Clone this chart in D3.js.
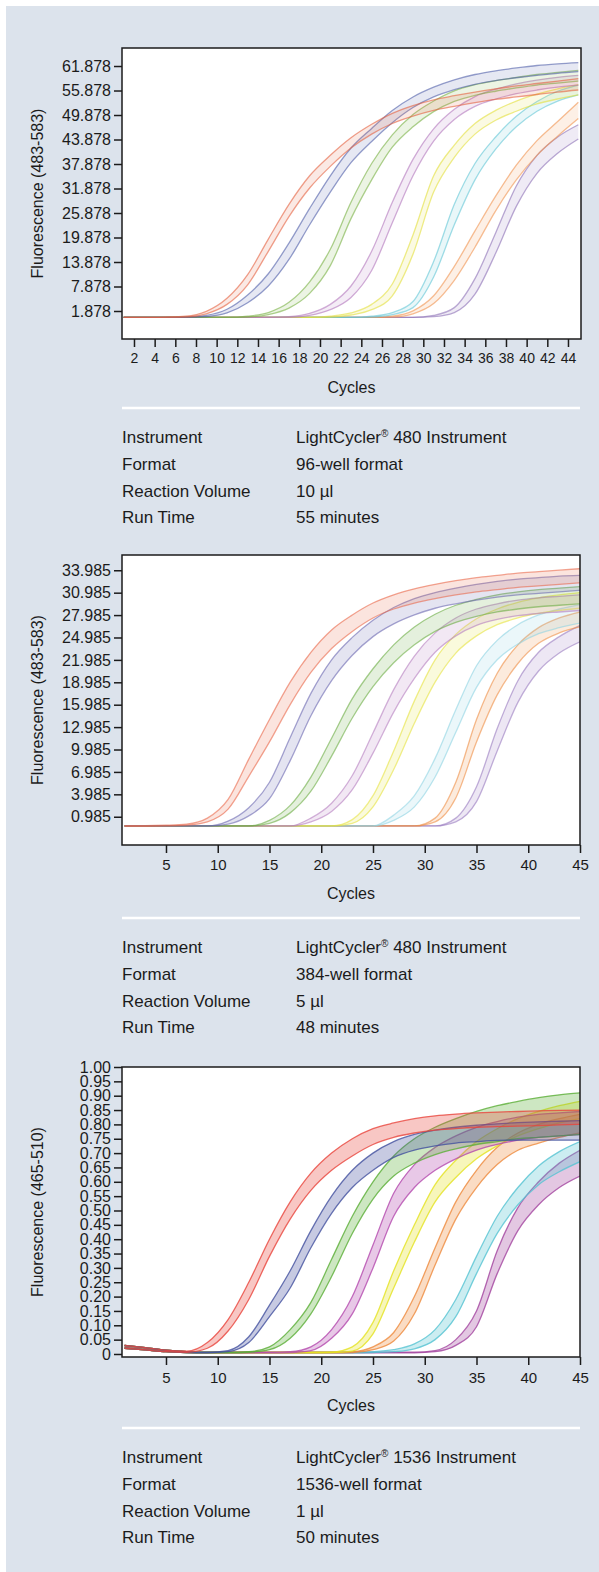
<!DOCTYPE html>
<html lang="en">
<head>
<meta charset="UTF-8">
<title>LightCycler amplification curves</title>
<script src="https://d3js.org/d3.v7.min.js"></script>
<style>
    body {
        margin: 0;
        background: #ffffff;
    }
    svg {
        display: block;
    }
    text {
        font-family: "Liberation Sans", Arial, sans-serif;
        fill: #1b1b1b;
    }
    .axis path.domain {
        display: none;
    }
    .axis line {
        stroke: #1b1b1b;
        stroke-width: 1.5px;
    }
</style>
</head>
<body>
<script>
const width = 599;
const height = 1572;

const cycles = [1, 3, 5, 7, 9, 11, 13, 15, 17, 19, 21, 23, 25, 27, 29, 31, 33, 35, 37, 39, 41, 43, 45];

// ---- panel 1 : LightCycler 480, 96-well ----
const p1XTicks = [2, 4, 6, 8, 10, 12, 14, 16, 18, 20, 22, 24, 26, 28, 30, 32, 34, 36, 38, 40, 42, 44];
const p1YTicks = [1.878, 7.878, 13.878, 19.878, 25.878, 31.878, 37.878, 43.878, 49.878, 55.878, 61.878];

const p1RedHi = [0.3,0.3,0.4,0.6,1.8,5,10.8,19.5,28,35,40,44.3,47.6,50.3,52.2,53.6,54.6,55.5,56.3,57,57.6,58.2,58.8];
const p1RedLo = [0.3,0.3,0.3,0.4,1.2,3.5,8.3,16.5,25,32,37.3,41.8,45.2,47.8,49.6,51,52,52.9,53.7,54.3,54.9,55.5,56];
const p1BlueHi = [0.3,0.3,0.3,0.4,0.8,2.3,5.8,11,18.5,27,35,41.8,46.6,51,54.3,56.7,58.5,59.8,60.7,61.4,62,62.4,62.7];
const p1BlueLo = [0.3,0.3,0.3,0.3,0.5,1.4,3.9,8,14.5,23,31,38.2,43.4,48,51.7,54.3,56.1,57.4,58.3,59,59.6,60.1,60.5];
const p1GreenHi = [0.3,0.3,0.3,0.3,0.3,0.3,0.6,1.5,4,9,17,28.5,38,45,50,53.3,55.8,57.3,58.3,59.1,59.8,60.3,60.8];
const p1GreenLo = [0.3,0.3,0.3,0.3,0.3,0.3,0.4,1,2.6,6.2,13,24.5,34,42,47,50.7,53.2,54.7,55.7,56.5,57.2,57.7,58.2];
const p1MagentaHi = [0.3,0.3,0.3,0.3,0.3,0.3,0.3,0.3,0.5,1.3,3.5,8,16.5,28.5,39,46.5,51.3,54.4,56.2,57.5,58.4,59.1,59.6];
const p1MagentaLo = [0.3,0.3,0.3,0.3,0.3,0.3,0.3,0.3,0.3,0.8,2.2,5.2,11.8,23.5,35,43.5,48.8,52,53.8,55.1,56,56.7,57.2];
const p1YellowHi = [0.3,0.3,0.3,0.3,0.3,0.3,0.3,0.3,0.3,0.3,0.6,1.4,3.5,8.5,20.5,35,42.5,47.8,51,53.3,55,56.3,57.3];
const p1YellowLo = [0.3,0.3,0.3,0.3,0.3,0.3,0.3,0.3,0.3,0.3,0.4,0.9,2.2,5.6,15.8,31,39.5,45.2,48.6,50.8,52.6,53.8,54.8];
const p1CyanHi = [0.3,0.3,0.3,0.3,0.3,0.3,0.3,0.3,0.3,0.3,0.3,0.3,0.6,1.5,4.2,14,28,38,44.5,49.6,53.2,55.7,57.2];
const p1CyanLo = [0.3,0.3,0.3,0.3,0.3,0.3,0.3,0.3,0.3,0.3,0.3,0.3,0.4,1,2.7,10.2,23,34,41.5,47,50.8,53.3,54.8];
const p1OrangeHi = [0.3,0.3,0.3,0.3,0.3,0.3,0.3,0.3,0.3,0.3,0.3,0.3,0.3,0.6,1.9,5.6,12.8,21.5,30,37.6,43.6,48.3,53];
const p1OrangeLo = [0.3,0.3,0.3,0.3,0.3,0.3,0.3,0.3,0.3,0.3,0.3,0.3,0.3,0.4,1.2,3.7,9.4,17.5,26.4,34,40,44.7,49];
const p1PurpleHi = [0.3,0.3,0.3,0.3,0.3,0.3,0.3,0.3,0.3,0.3,0.3,0.3,0.3,0.3,0.3,0.8,2.7,9.8,21,32.5,40,44.5,47.5];
const p1PurpleLo = [0.3,0.3,0.3,0.3,0.3,0.3,0.3,0.3,0.3,0.3,0.3,0.3,0.3,0.3,0.3,0.5,1.5,6,16,27.5,35.6,40.5,44];

// ---- panel 2 : LightCycler 480, 384-well ----
const p2XTicks = [5, 10, 15, 20, 25, 30, 35, 40, 45];
const p2YTicks = [0.985, 3.985, 6.985, 9.985, 12.985, 15.985, 18.985, 21.985, 24.985, 27.985, 30.985, 33.985];

const p2RedHi = [-0.2,-0.2,-0.15,0,0.8,3.3,8.7,14,19,23,26,28,29.6,30.7,31.5,32.1,32.6,33,33.3,33.6,33.8,34,34.2];
const p2RedLo = [-0.3,-0.3,-0.25,-0.15,0.3,2,6.4,11,16,20.3,23.5,25.8,27.6,28.8,29.6,30.2,30.7,31.1,31.4,31.7,31.9,32.1,32.3];
const p2BlueHi = [-0.25,-0.25,-0.25,-0.25,-0.25,0.4,2.2,5.6,11.6,17.5,22,25,27.3,29,30.2,31,31.6,32.1,32.5,32.8,33,33.2,33.3];
const p2BlueLo = [-0.25,-0.25,-0.25,-0.25,-0.25,0,1.1,3.4,8.5,14.5,19.2,22.6,25.1,26.8,28,28.9,29.5,30,30.4,30.7,30.9,31.1,31.3];
const p2GreenHi = [-0.25,-0.25,-0.25,-0.25,-0.25,-0.25,-0.25,0.5,2.5,6.3,11.5,16.8,20.8,24,26.4,28.1,29.3,30.1,30.7,31.1,31.4,31.6,31.8];
const p2GreenLo = [-0.25,-0.25,-0.25,-0.25,-0.25,-0.25,-0.25,0.1,1.5,4.4,9.1,14.2,18.4,21.6,24,25.8,27,27.8,28.4,28.8,29.1,29.3,29.5];
const p2MagentaHi = [-0.25,-0.25,-0.25,-0.25,-0.25,-0.25,-0.25,-0.25,-0.25,0.8,2.8,6.5,12.2,18,22.5,25.6,27.6,28.8,29.5,30,30.3,30.5,30.7];
const p2MagentaLo = [-0.25,-0.25,-0.25,-0.25,-0.25,-0.25,-0.25,-0.25,-0.25,0.3,1.7,4.6,9.5,15,19.5,23,25.2,26.6,27.4,27.9,28.2,28.4,28.6];
const p2YellowHi = [-0.25,-0.25,-0.25,-0.25,-0.25,-0.25,-0.25,-0.25,-0.25,-0.25,-0.25,0.6,3.8,9.8,16.5,22,25.4,27.5,28.8,29.7,30.3,30.7,31];
const p2YellowLo = [-0.25,-0.25,-0.25,-0.25,-0.25,-0.25,-0.25,-0.25,-0.25,-0.25,-0.25,0.1,2.3,7.3,13.5,19,22.9,25.2,26.7,27.6,28.2,28.6,28.9];
const p2CyanHi = [-0.25,-0.25,-0.25,-0.25,-0.25,-0.25,-0.25,-0.25,-0.25,-0.25,-0.25,-0.25,-0.25,1.2,3.8,8.8,15.3,21.2,24.6,26.7,28,28.8,29.4];
const p2CyanLo = [-0.25,-0.25,-0.25,-0.25,-0.25,-0.25,-0.25,-0.25,-0.25,-0.25,-0.25,-0.25,-0.25,0.5,2.3,6.3,12.3,18.3,22,24.1,25.5,26.3,26.9];
const p2OrangeHi = [-0.25,-0.25,-0.25,-0.25,-0.25,-0.25,-0.25,-0.25,-0.25,-0.25,-0.25,-0.25,-0.25,-0.25,-0.25,0.8,5.6,14,20.2,24,26.3,27.6,28.4];
const p2OrangeLo = [-0.25,-0.25,-0.25,-0.25,-0.25,-0.25,-0.25,-0.25,-0.25,-0.25,-0.25,-0.25,-0.25,-0.25,-0.25,0.3,3.5,11,17.3,21.5,24.2,25.6,26.4];
const p2PurpleHi = [-0.25,-0.25,-0.25,-0.25,-0.25,-0.25,-0.25,-0.25,-0.25,-0.25,-0.25,-0.25,-0.25,-0.25,-0.25,-0.25,0.8,5,12.8,19.2,23,25.1,26.6];
const p2PurpleLo = [-0.25,-0.25,-0.25,-0.25,-0.25,-0.25,-0.25,-0.25,-0.25,-0.25,-0.25,-0.25,-0.25,-0.25,-0.25,-0.25,0.3,3,9.8,16.3,20.5,22.9,24.4];

// ---- panel 3 : LightCycler 1536 ----
const p3XTicks = [5, 10, 15, 20, 25, 30, 35, 40, 45];
const p3YTicks = [0, 0.05, 0.10, 0.15, 0.20, 0.25, 0.30, 0.35, 0.40, 0.45, 0.50, 0.55, 0.60, 0.65, 0.70, 0.75, 0.80, 0.85, 0.90, 0.95, 1.00];

const p3RedHi = [0.03,0.022,0.013,0.01,0.04,0.12,0.25,0.4,0.53,0.63,0.7,0.75,0.785,0.805,0.82,0.83,0.836,0.84,0.843,0.845,0.847,0.849,0.85];
const p3RedLo = [0.02,0.014,0.008,0.006,0.02,0.08,0.19,0.34,0.47,0.57,0.64,0.69,0.73,0.755,0.77,0.78,0.785,0.79,0.792,0.794,0.796,0.798,0.8];
const p3BlueHi = [0.03,0.022,0.013,0.008,0.006,0.012,0.06,0.17,0.29,0.43,0.55,0.64,0.7,0.74,0.765,0.78,0.79,0.797,0.802,0.806,0.809,0.811,0.813];
const p3BlueLo = [0.02,0.014,0.008,0.005,0.004,0.008,0.04,0.13,0.23,0.37,0.49,0.58,0.64,0.685,0.71,0.725,0.735,0.74,0.744,0.745,0.745,0.745,0.745];
const p3GreenHi = [0.03,0.022,0.013,0.008,0.006,0.006,0.008,0.025,0.085,0.18,0.33,0.48,0.6,0.69,0.75,0.79,0.82,0.845,0.865,0.88,0.893,0.903,0.91];
const p3GreenLo = [0.02,0.014,0.008,0.005,0.004,0.004,0.006,0.015,0.055,0.14,0.27,0.42,0.54,0.62,0.665,0.695,0.715,0.73,0.74,0.75,0.755,0.76,0.765];
const p3MagentaHi = [0.03,0.022,0.013,0.008,0.006,0.006,0.006,0.006,0.008,0.025,0.085,0.2,0.38,0.56,0.66,0.72,0.76,0.79,0.81,0.825,0.835,0.84,0.845];
const p3MagentaLo = [0.02,0.014,0.008,0.005,0.004,0.004,0.004,0.004,0.005,0.012,0.055,0.14,0.3,0.48,0.58,0.64,0.68,0.71,0.73,0.745,0.755,0.76,0.765];
const p3YellowHi = [0.03,0.022,0.013,0.008,0.006,0.006,0.006,0.006,0.006,0.006,0.007,0.025,0.11,0.29,0.45,0.59,0.675,0.74,0.785,0.82,0.845,0.865,0.88];
const p3YellowLo = [0.02,0.014,0.008,0.005,0.004,0.004,0.004,0.004,0.004,0.004,0.005,0.01,0.07,0.23,0.39,0.53,0.615,0.68,0.725,0.76,0.785,0.805,0.82];
const p3OrangeHi = [0.03,0.022,0.013,0.008,0.006,0.006,0.006,0.006,0.006,0.006,0.006,0.008,0.025,0.075,0.2,0.37,0.53,0.64,0.72,0.77,0.8,0.82,0.835];
const p3OrangeLo = [0.02,0.014,0.008,0.005,0.004,0.004,0.004,0.004,0.004,0.004,0.004,0.005,0.015,0.045,0.14,0.31,0.47,0.58,0.66,0.71,0.735,0.755,0.77];
const p3CyanHi = [0.03,0.022,0.013,0.008,0.006,0.006,0.006,0.006,0.006,0.006,0.006,0.006,0.008,0.015,0.035,0.085,0.19,0.34,0.48,0.58,0.655,0.705,0.74];
const p3CyanLo = [0.02,0.014,0.008,0.005,0.004,0.004,0.004,0.004,0.004,0.004,0.004,0.004,0.005,0.008,0.018,0.05,0.13,0.28,0.42,0.52,0.59,0.635,0.67];
const p3PurpleHi = [0.03,0.022,0.013,0.008,0.006,0.006,0.006,0.006,0.006,0.006,0.006,0.006,0.006,0.006,0.006,0.012,0.05,0.15,0.36,0.51,0.6,0.665,0.71];
const p3PurpleLo = [0.02,0.014,0.008,0.005,0.004,0.004,0.004,0.004,0.004,0.004,0.004,0.004,0.004,0.004,0.004,0.008,0.03,0.095,0.28,0.43,0.52,0.58,0.62];

// ---- run details under each chart ----
const infoLabels = ["Instrument", "Format", "Reaction Volume", "Run Time"];
const p1Info = ["LightCycler® 480 Instrument", "96-well format", "10 µl", "55 minutes"];
const p2Info = ["LightCycler® 480 Instrument", "384-well format", "5 µl", "48 minutes"];
const p3Info = ["LightCycler® 1536 Instrument", "1536-well format", "1 µl", "50 minutes"];

const panels = [
    {
        box: [122, 581, 48, 339],
        xDomain: [0.84, 45.26],
        yDomain: [-4.98, 66.29],
        xTicks: p1XTicks, xFont: 14, xPad: 6,
        yTicks: p1YTicks, yFormat: d3.format(".3f"),
        yLabel: "Fluorescence (483-583)",
        sep: 408, info: p1Info,
        fillOpacity: 0.14, lineOpacity: 0.6,
        series: [
            ["#8c6fb6", p1PurpleLo, p1PurpleHi],
            ["#f0924e", p1OrangeLo, p1OrangeHi],
            ["#63c6d6", p1CyanLo, p1CyanHi],
            ["#e3df3a", p1YellowLo, p1YellowHi],
            ["#b277bd", p1MagentaLo, p1MagentaHi],
            ["#78b043", p1GreenLo, p1GreenHi],
            ["#4f5ea9", p1BlueLo, p1BlueHi],
            ["#e4613f", p1RedLo, p1RedHi]
        ]
    },
    {
        box: [122, 580, 555, 845],
        xDomain: [0.75, 45],
        yDomain: [-2.8, 36.03],
        xTicks: p2XTicks, xFont: 15, xPad: 6,
        yTicks: p2YTicks, yFormat: d3.format(".3f"),
        yLabel: "Fluorescence (483-583)",
        sep: 918, info: p2Info,
        fillOpacity: 0.18, lineOpacity: 0.6,
        series: [
            ["#9a7cc0", p2PurpleLo, p2PurpleHi],
            ["#ef8e45", p2OrangeLo, p2OrangeHi],
            ["#8fd4e2", p2CyanLo, p2CyanHi],
            ["#e6e23f", p2YellowLo, p2YellowHi],
            ["#b57fc0", p2MagentaLo, p2MagentaHi],
            ["#6cae45", p2GreenLo, p2GreenHi],
            ["#6a68b0", p2BlueLo, p2BlueHi],
            ["#e9684a", p2RedLo, p2RedHi]
        ]
    },
    {
        box: [122, 580, 1067, 1357],
        xDomain: [0.75, 45],
        yDomain: [-0.0105, 1],
        xTicks: p3XTicks, xFont: 15, xPad: 7,
        yTicks: p3YTicks, yFormat: d => d === 0 ? "0" : d3.format(".2f")(d),
        yLabel: "Fluorescence (465-510)",
        sep: 1428, info: p3Info,
        fillOpacity: 0.3, lineOpacity: 0.8,
        series: [
            ["#a2449f", p3PurpleLo, p3PurpleHi],
            ["#55c3d2", p3CyanLo, p3CyanHi],
            ["#ee8a3c", p3OrangeLo, p3OrangeHi],
            ["#e4e21f", p3YellowLo, p3YellowHi],
            ["#b44aae", p3MagentaLo, p3MagentaHi],
            ["#5aae36", p3GreenLo, p3GreenHi],
            ["#44519f", p3BlueLo, p3BlueHi],
            ["#e8453c", p3RedLo, p3RedHi]
        ]
    }
];

const svg = d3.select("body").append("svg")
    .attr("width", width)
    .attr("height", height)
    .attr("viewBox", [0, 0, width, height]);

svg.append("rect")
    .attr("x", 6)
    .attr("y", 6)
    .attr("width", width - 6)
    .attr("height", height - 6)
    .attr("fill", "#dce3ec");

panels.forEach((p, pi) => {
    const [x0, x1, y0, y1] = p.box;
    const x = d3.scaleLinear().domain(p.xDomain).range([x0, x1]);
    const y = d3.scaleLinear().domain(p.yDomain).range([y1, y0]);

    const g = svg.append("g");

    g.append("rect")
        .attr("x", x0)
        .attr("y", y0)
        .attr("width", x1 - x0)
        .attr("height", y1 - y0)
        .attr("fill", "#ffffff");

    g.append("clipPath")
        .attr("id", "clip" + pi)
        .append("rect")
        .attr("x", x0)
        .attr("y", y0)
        .attr("width", x1 - x0)
        .attr("height", y1 - y0);

    const plot = g.append("g").attr("clip-path", `url(#clip${pi})`);

    const area = d3.area()
        .x((d, i) => x(cycles[i]))
        .y0(d => y(d[0]))
        .y1(d => y(d[1]))
        .curve(d3.curveMonotoneX);

    const line = d3.line()
        .x((d, i) => x(cycles[i]))
        .y(d => y(d))
        .curve(d3.curveMonotoneX);

    p.series.forEach(([color, lo, hi]) => {
        plot.append("path")
            .datum(lo.map((v, i) => [v, hi[i]]))
            .attr("fill", color)
            .attr("fill-opacity", p.fillOpacity)
            .attr("d", area);

        [lo, hi].forEach(vals => {
            plot.append("path")
                .datum(vals)
                .attr("fill", "none")
                .attr("stroke", color)
                .attr("stroke-opacity", p.lineOpacity)
                .attr("stroke-width", 1.3)
                .attr("d", line);
        });
    });

    // frame
    g.append("rect")
        .attr("x", x0)
        .attr("y", y0)
        .attr("width", x1 - x0)
        .attr("height", y1 - y0)
        .attr("fill", "none")
        .attr("stroke", "#1b1b1b")
        .attr("stroke-width", 1.5);

    // axes
    const yAxis = g.append("g")
        .attr("class", "axis")
        .attr("transform", `translate(${x0},0)`)
        .call(d3.axisLeft(y)
            .tickValues(p.yTicks)
            .tickFormat(p.yFormat)
            .tickSize(8)
            .tickPadding(3));
    yAxis.selectAll("text")
        .style("font-size", "16px")
        .attr("fill", "#1b1b1b");

    const xAxis = g.append("g")
        .attr("class", "axis")
        .attr("transform", `translate(0,${y1})`)
        .call(d3.axisBottom(x)
            .tickValues(p.xTicks)
            .tickSize(8)
            .tickPadding(p.xPad));
    xAxis.selectAll("text")
        .style("font-size", p.xFont + "px")
        .attr("fill", "#1b1b1b");

    g.append("text")
        .attr("x", (x0 + x1) / 2)
        .attr("y", y1 + 48)
        .attr("dy", "0.35em")
        .attr("text-anchor", "middle")
        .style("font-size", "16px")
        .text("Cycles");

    g.append("text")
        .attr("transform", `translate(37,${(y0 + y1) / 2}) rotate(-90)`)
        .attr("dy", "0.35em")
        .attr("text-anchor", "middle")
        .style("font-size", "16px")
        .text(p.yLabel);

    // separator + details table
    g.append("line")
        .attr("x1", x0)
        .attr("x2", 580)
        .attr("y1", p.sep)
        .attr("y2", p.sep)
        .attr("stroke", "#ffffff")
        .attr("stroke-width", 2.5);

    const rowY = [29, 56, 83, 109];
    infoLabels.forEach((label, i) => {
        g.append("text")
            .attr("x", x0)
            .attr("y", p.sep + rowY[i])
            .attr("dy", "0.35em")
            .style("font-size", "17px")
            .text(label);

        const value = g.append("text")
            .attr("x", 296)
            .attr("y", p.sep + rowY[i])
            .attr("dy", "0.35em")
            .style("font-size", "17px");

        const parts = p.info[i].split("®");
        value.append("tspan").text(parts[0]);
        if (parts.length > 1) {
            value.append("tspan")
                .attr("dy", -6)
                .style("font-size", "10px")
                .text("®");
            value.append("tspan")
                .attr("dy", 6)
                .text(parts[1]);
        }
    });
});
</script>
</body>
</html>
